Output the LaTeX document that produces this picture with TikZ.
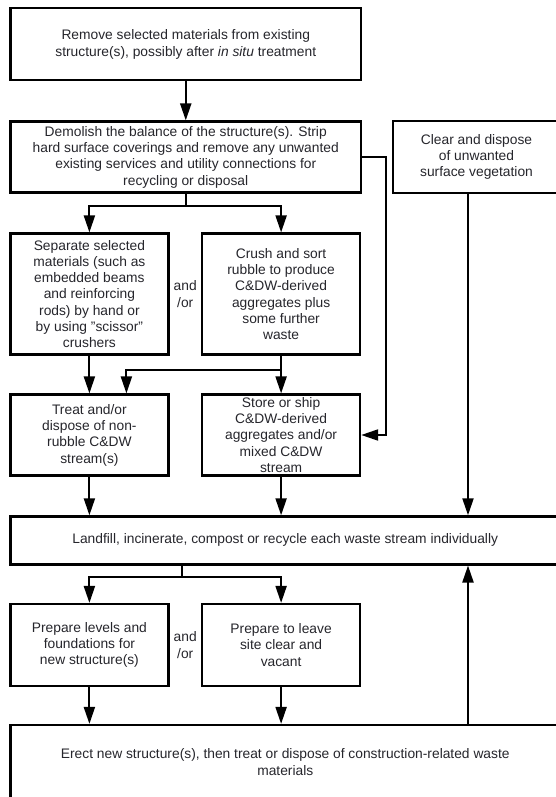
\documentclass[tikz,border=0pt]{standalone}
\usepackage{fontspec}
\setmainfont{Liberation Sans}
\usetikzlibrary{positioning,arrows.meta,calc}
\definecolor{ink}{RGB}{38,38,44}

\begin{document}
\begin{tikzpicture}[
  x=1pt,y=-1pt,
  font=\fontsize{13.8}{16.3}\selectfont,
  >={Triangle[length=17pt,width=11pt]},
  box/.style={draw=black,line width=2.2pt,fill=white,align=center,inner sep=2pt,text=ink},
  narrow/.style={box,minimum width=158pt},
  wide/.style={box,minimum width=350.5pt},
  full/.style={box,minimum width=549.5pt},
  flow/.style={->,black,line width=2.1pt},
  andor/.style={align=center,text=ink,inner sep=1pt},
]
\useasboundingbox (0,0) rectangle (556,797);
\clip (0,0) rectangle (556,797);
% ---- top of the chain ----
\node[wide,minimum height=72pt] (remove) at (185.75,44.4) {Remove selected materials from existing\\structure(s), possibly after \textit{in situ} treatment};
\node[wide,minimum height=71pt] (demolish) at (185.75,157) {Demolish the balance of the structure(s). Strip\\hard surface coverings and remove any unwanted\\existing services and utility connections for\\recycling or disposal};
\node[box,minimum width=167pt,minimum height=72pt] (clear) at (476.5,157) {Clear and dispose\\of unwanted\\surface vegetation};
\draw[flow] (remove) -- (demolish);
% ---- separate / crush ----
\node[narrow,minimum height=121pt] (separate) at (89.4,294) {Separate selected\\materials (such as\\embedded beams\\and reinforcing\\rods) by hand or\\by using \symbol{34}scissor\symbol{34}\\crushers};
\node[narrow,minimum height=121pt,right=31.5pt of separate] (crush) {Crush and sort\\rubble to produce\\C\&DW-derived\\aggregates plus\\some further\\waste};
\node[andor] (andor1) at ($(separate.east)!0.5!(crush.west)$) {and\\/or};
\draw[flow] (demolish.south) -- ++(0,12) -| (separate.north);
\draw[flow] (demolish.south) -- ++(0,12) -| (crush.north);
% ---- treat / store ----
\node[narrow,minimum height=81pt] (treat) at (89.4,435) {Treat and/or\\dispose of non-\\rubble C\&DW\\stream(s)};
\node[narrow,minimum height=81pt,right=31.5pt of treat] (store) {Store or ship\\C\&DW-derived\\aggregates and/or\\mixed C\&DW\\stream};
\draw[flow] (separate) -- (treat);
\draw[flow] (crush) -- (store);
\draw[flow] (crush.south) -- ++(0,14) -| ([xshift=37pt]treat.north);
\draw[flow] (demolish.east) -- ++(24,0) |- (store.east);
% ---- landfill ----
\node[full,minimum height=48pt] (landfill) at (285.25,540.4) {Landfill, incinerate, compost or recycle each waste stream individually};
\coordinate (rail) at (468,0);
\draw[flow] (treat) -- (treat |- landfill.north);
\draw[flow] (store) -- (store |- landfill.north);
\draw[flow] (clear.south -| rail) -- (landfill.north -| rail);
% ---- levels / leave ----
\node[narrow,minimum height=82pt] (levels) at (89.4,645) {Prepare levels and\\foundations for\\new structure(s)};
\node[narrow,minimum height=82pt,right=31.5pt of levels] (leave) {Prepare to leave\\site clear and\\vacant};
\node[andor] (andor2) at ($(levels.east)!0.5!(leave.west)$) {and\\/or};
\draw[flow] ([xshift=-3pt]landfill.south -| andor2) -- ++(0,11.5) -| (levels.north);
\draw[flow] ([xshift=-3pt]landfill.south -| andor2) -- ++(0,11.5) -| (leave.north);
% ---- erect ----
\node[full,minimum height=74pt] (erect) at (285.25,762) {Erect new structure(s), then treat or dispose of construction-related waste\\materials};
\draw[flow] (levels) -- (levels |- erect.north);
\draw[flow] (leave) -- (leave |- erect.north);
\draw[flow] (erect.north -| rail) -- (landfill.south -| rail);
\end{tikzpicture}
\end{document}
